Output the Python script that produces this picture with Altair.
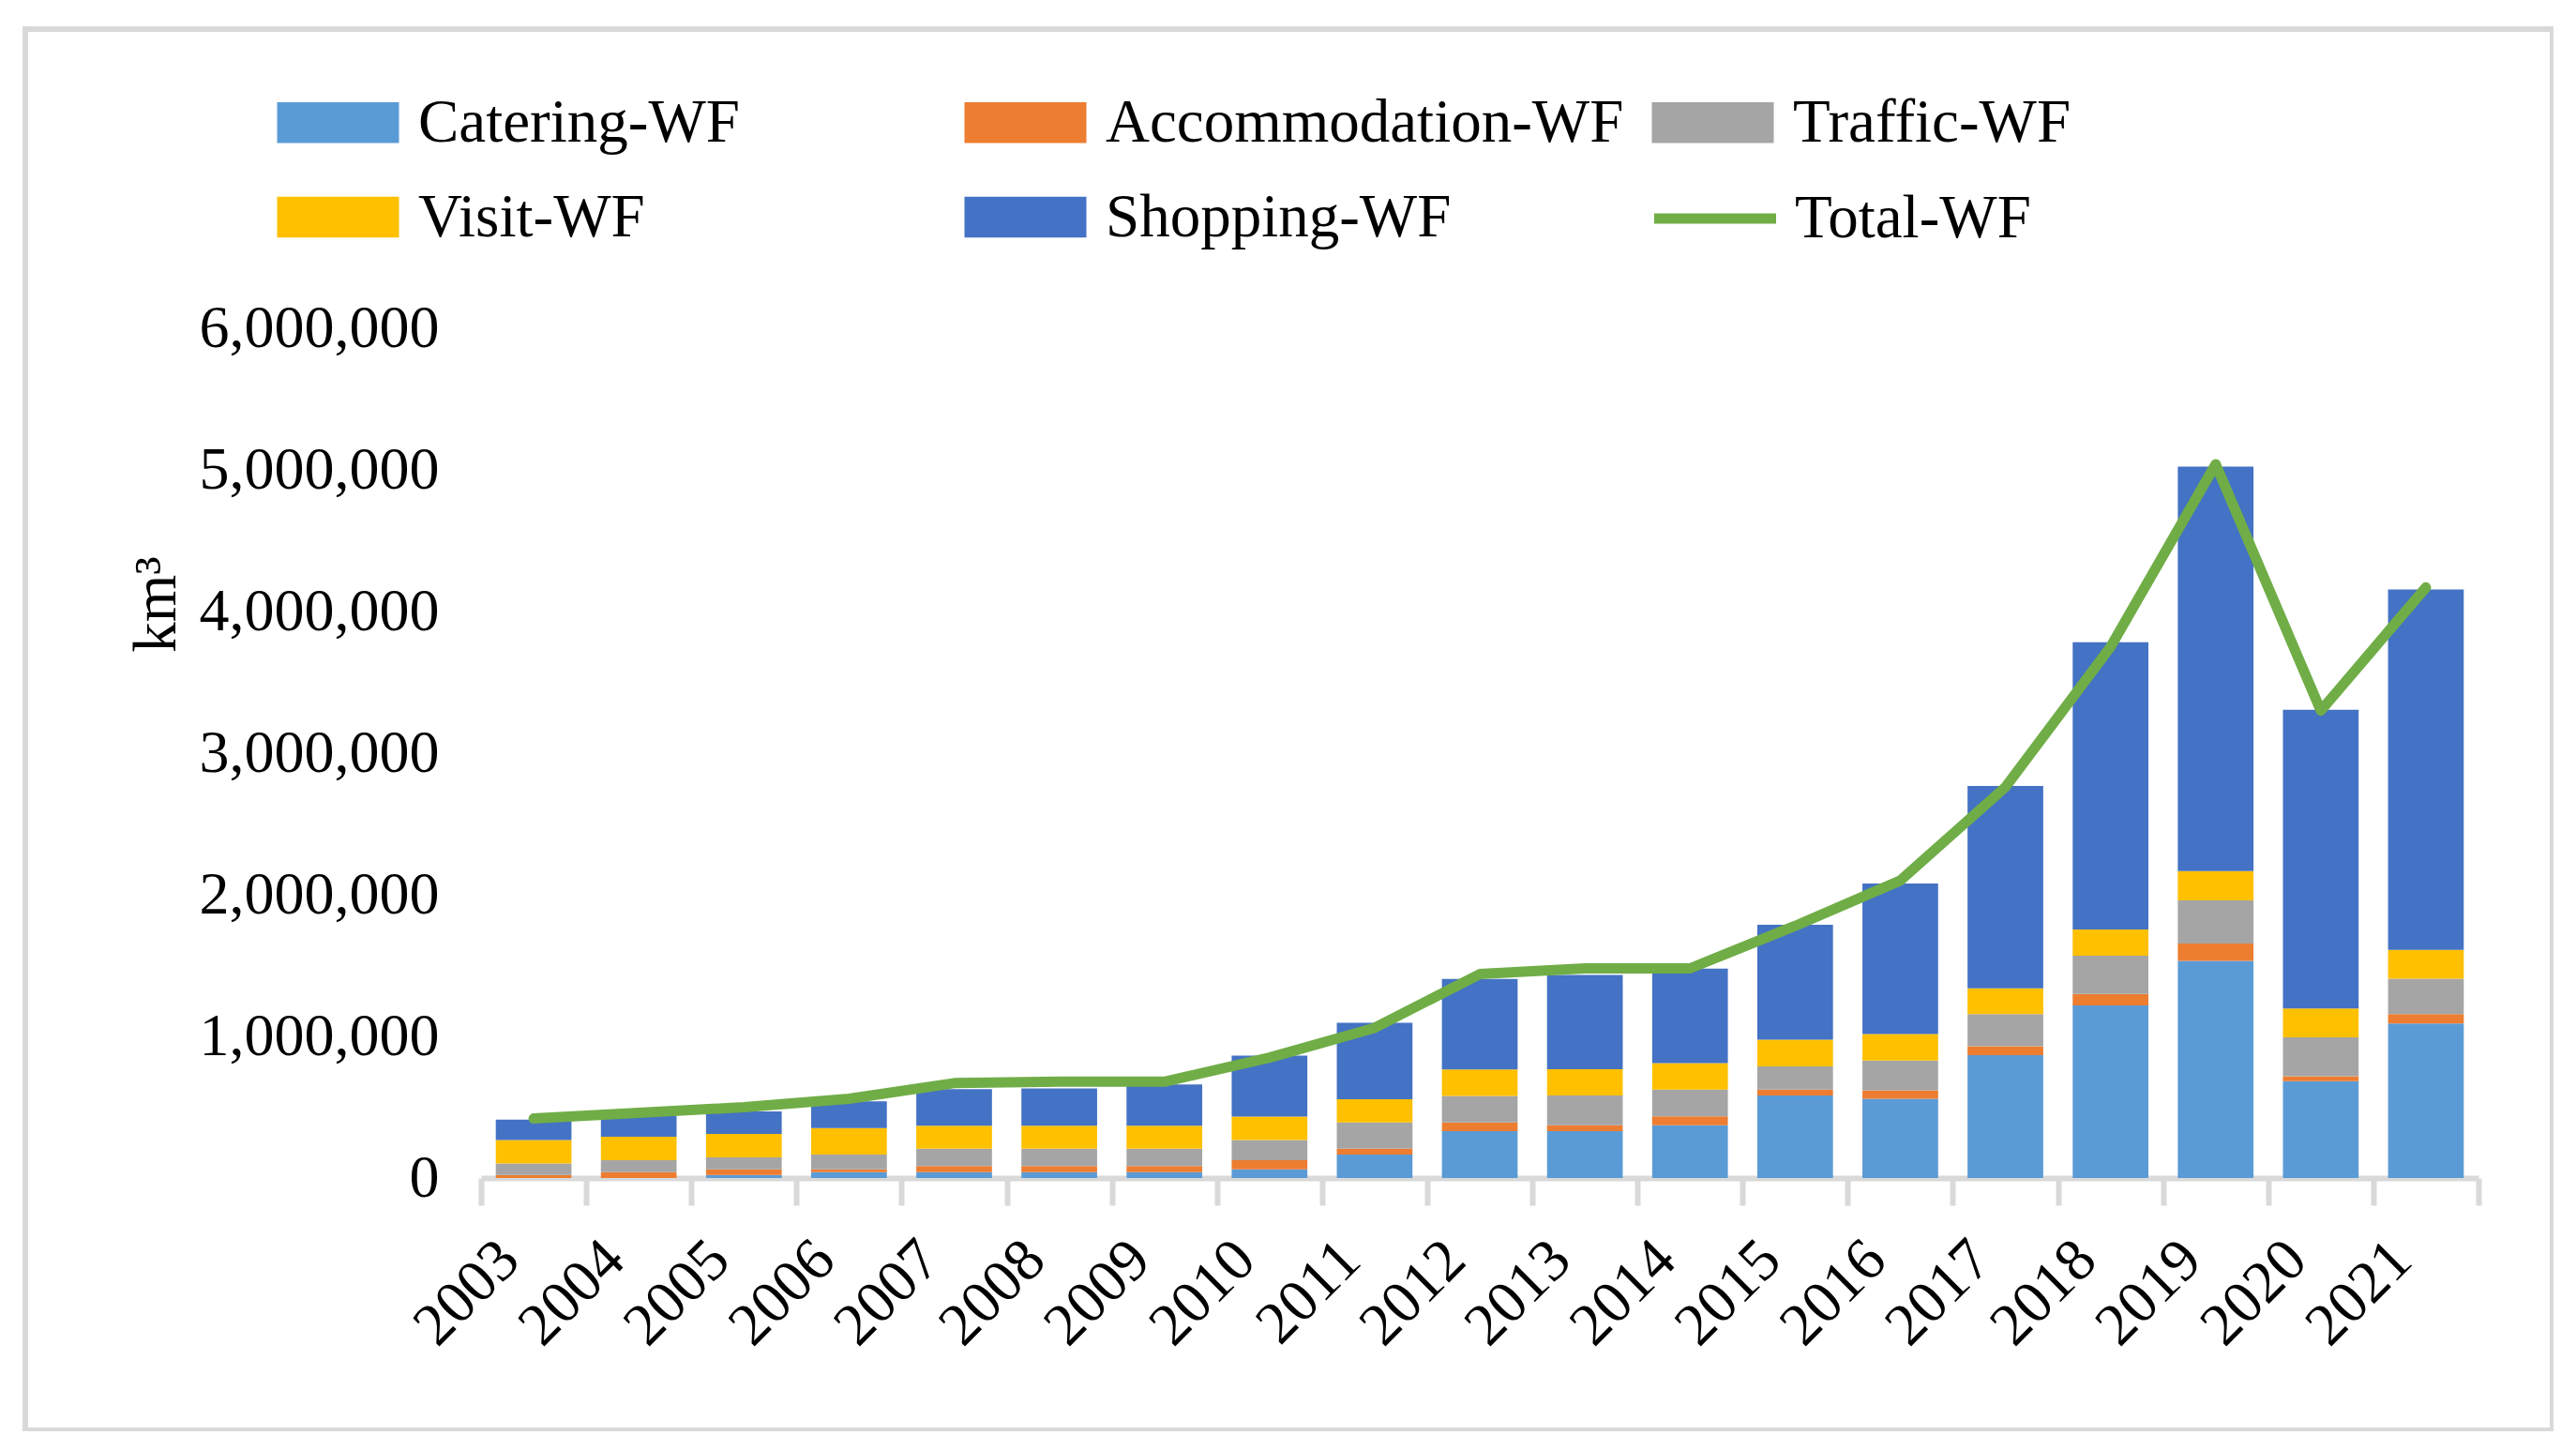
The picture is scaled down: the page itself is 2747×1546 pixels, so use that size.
import altair as alt
import pandas as pd

years = [str(y) for y in range(2003, 2022)]

catering = [0, 0, 22000, 42000, 42000, 42000, 42000, 62000, 165000, 331000,
            331000, 373000, 582000, 560000, 867000, 1218000, 1533000, 684000, 1091000]
accommodation = [22000, 42000, 40000, 20000, 42000, 42000, 42000, 64000, 42000, 62000,
                 42000, 62000, 42000, 60000, 63000, 81000, 123000, 35000, 67000]
traffic = [81000, 84000, 84000, 103000, 123000, 123000, 123000, 143000, 185000, 187000,
           209000, 189000, 164000, 209000, 228000, 270000, 305000, 274000, 249000]
visit = [165000, 165000, 165000, 187000, 163000, 163000, 163000, 165000, 165000, 187000,
         187000, 187000, 189000, 187000, 182000, 186000, 207000, 204000, 204000]
shopping = [145000, 150000, 160000, 190000, 257000, 262000, 290000, 431000, 539000, 638000,
            664000, 667000, 811000, 1064000, 1428000, 2028000, 2856000, 2109000, 2544000]
total_wf = [420000, 460000, 500000, 560000, 670000, 680000, 680000, 850000, 1060000, 1440000,
            1480000, 1480000, 1780000, 2100000, 2760000, 3750000, 5040000, 3300000, 4170000]

series_names = ["Catering-WF", "Accommodation-WF", "Traffic-WF", "Visit-WF", "Shopping-WF"]
series_values = [catering, accommodation, traffic, visit, shopping]
series_colors = ["#5b9bd5", "#ed7d31", "#a5a5a5", "#ffc000", "#4472c4"]
y_ticks = [0, 1000000, 2000000, 3000000, 4000000, 5000000, 6000000]

rows = []
for i, (name, vals) in enumerate(zip(series_names, series_values)):
    for yr, v in zip(years, vals):
        rows.append({"year": yr, "series": name, "value": v, "idx": i})
bars_df = pd.DataFrame(rows)
line_df = pd.DataFrame({"year": years, "total": total_wf, "name": ["Total-WF"] * len(years)})

FONT = "Liberation Serif"

x_enc = alt.X(
    "year:N", sort=years,
    scale=alt.Scale(paddingInner=0, paddingOuter=0),
    axis=alt.Axis(
        title=None, labelAngle=-45, labelAlign="right", labelBaseline="middle",
        labelFont=FONT, labelFontSize=64, labelColor="black", labelPadding=48,
        labelOffset=-26,
        tickBand="extent", tickSize=29, tickWidth=6, tickColor="#d9d9d9",
        domainColor="#d9d9d9", domainWidth=6, grid=False,
    ),
)

y_axis = alt.Axis(
    values=y_ticks, format=",d", labelFont=FONT, labelFontSize=64, labelColor="black",
    labelPadding=45, labelLimit=1000, ticks=False, domain=False, grid=False,
    title="km³", titleFont=FONT, titleFontSize=65, titleFontWeight="normal", titleColor="black",
    titleAngle=270, titleX=-347, titleY=294, titleAlign="center", titleBaseline="middle",
)
y_scale = alt.Scale(domain=[0, 6000000], nice=False)

frame = alt.Chart(pd.DataFrame({"a": [0]})).mark_rect(
    fill="transparent", stroke="#d9d9d9", strokeWidth=6
).encode(
    x=alt.value(-486), x2=alt.value(2209), y=alt.value(-319), y2=alt.value(1175)
)

bars = alt.Chart(bars_df).mark_bar(width=alt.RelativeBandSize(0.72)).encode(
    x=x_enc,
    y=alt.Y("value:Q", stack="zero", scale=y_scale, axis=y_axis),
    color=alt.Color(
        "series:N",
        scale=alt.Scale(domain=series_names, range=series_colors),
        legend=alt.Legend(
            title=None, orient="none", legendX=-185, legendY=-252,
            direction="horizontal", columns=3, gridAlign="all",
            columnPadding=29, rowPadding=35,
            symbolType="M-2,-0.67H2V0.67H-2Z", symbolSize=4225, symbolStrokeWidth=0,
            labelFont=FONT, labelFontSize=65, labelColor="black", labelOffset=53,
            labelLimit=1000, padding=0,
        ),
    ),
    order=alt.Order("idx:Q", sort="ascending"),
)

line = alt.Chart(line_df).mark_line(strokeWidth=11, strokeJoin="round", strokeCap="round").encode(
    x=x_enc,
    y=alt.Y("total:Q", scale=y_scale, axis=y_axis),
    stroke=alt.Stroke(
        "name:N",
        scale=alt.Scale(domain=["Total-WF"], range=["#70ad47"]),
        legend=alt.Legend(
            title=None, orient="none", legendX=1278, legendY=-155,
            symbolType="M-2,0H2", symbolSize=4225, symbolStrokeWidth=11,
            labelFont=FONT, labelFontSize=65, labelColor="black", labelOffset=47,
            labelLimit=1000, padding=0,
        ),
    ),
)

chart = alt.layer(frame, bars, line).resolve_scale(color="independent").properties(
    width=2130, height=906,
    autosize=alt.AutoSizeParams(type="none"),
    padding={"left": 505, "top": 342, "right": 80, "bottom": 270},
    background="white",
).configure_view(strokeWidth=0)

chart.save("out.html", embed_options={"renderer": "svg", "actions": False})
